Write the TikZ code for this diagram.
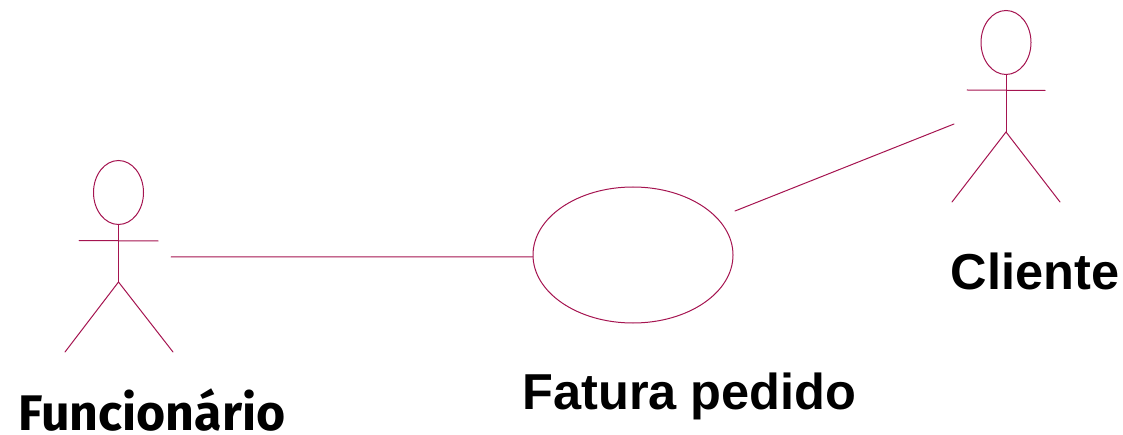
\documentclass[tikz,border=0pt]{standalone}
\usepackage{fontspec}
\setmainfont{Liberation Sans}
\newfontfamily\comicfont{Fira Sans}
\usetikzlibrary{calc, shapes.geometric}
\definecolor{actorred}{RGB}{165,20,80}
\tikzset{
    actorline/.style={draw=actorred, line width=1pt},
    actorlabel/.style={inner sep=0pt, text=black, font=\fontsize{50.5}{54}\selectfont\bfseries},
}
\begin{document}
\begin{tikzpicture}[x=1pt, y=-1pt, line cap=round]
    \useasboundingbox (0,0) rectangle (1123,435);

    % left actor
    \node[actorline, ellipse, minimum width=50, minimum height=64, inner sep=0pt] (head1) at (118.5,192.5) {};
    \coordinate (neck1) at (118.5,224.5);
    \coordinate (hip1) at (118.5,282);
    \coordinate (armL1) at (79,240.5);
    \coordinate (armR1) at (158,241);
    \coordinate (footL1) at (65,352);
    \coordinate (footR1) at (173,352);
    \draw[actorline] (neck1) -- (hip1);
    \draw[actorline] (armL1) -- (armR1);
    \draw[actorline] (footL1) -- (hip1) -- (footR1);
    \node[actorlabel, font=\comicfont\fontsize{50}{54}\selectfont\bfseries] (funcionario) at (152,410) {Funcionário};

    % right actor
    \node[actorline, ellipse, minimum width=50, minimum height=64, inner sep=0pt] (head2) at (1006,42.5) {};
    \coordinate (neck2) at (1006,74.5);
    \coordinate (hip2) at (1006,132);
    \coordinate (armL2) at (967,90);
    \coordinate (armR2) at (1045,90.5);
    \coordinate (footL2) at (952,202);
    \coordinate (footR2) at (1060,202);
    \draw[actorline] (neck2) -- (hip2);
    \draw[actorline] (armL2) -- (armR2);
    \draw[actorline] (footL2) -- (hip2) -- (footR2);
    \node[actorlabel] (cliente) at (1035,271) {Cliente};

    % use case
    \node[actorline, ellipse, minimum width=200, minimum height=136, inner sep=0pt] (fatura) at (633,255) {};
    \node[actorlabel] (faturalabel) at (689.5,396) {Fatura pedido};

    % associations
    \coordinate (end1) at (171,257);
    \coordinate (end2) at (954,124);
    \coordinate (start2) at (735,211);
    \draw[actorline] (end1) -- (fatura.181);
    \draw[actorline] (start2) -- (end2);
\end{tikzpicture}
\end{document}
